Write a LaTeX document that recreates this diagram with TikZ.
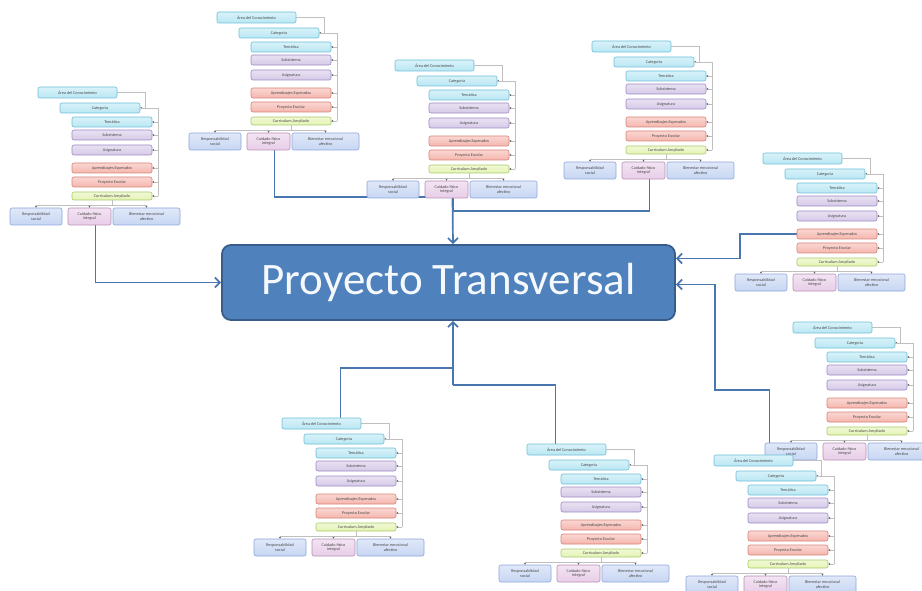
\documentclass[tikz,border=0pt]{standalone}
\usepackage{fontspec}
\setmainfont{Carlito}
\usetikzlibrary{arrows.meta, calc, backgrounds}
\definecolor{areacyan}{RGB}{185, 231, 244}
\definecolor{areacyanline}{RGB}{110, 190, 214}
\definecolor{sublilac}{RGB}{214, 202, 232}
\definecolor{sublilacline}{RGB}{157, 137, 196}
\definecolor{aprsalmon}{RGB}{245, 182, 174}
\definecolor{aprsalmonline}{RGB}{216, 130, 121}
\definecolor{curlime}{RGB}{228, 244, 180}
\definecolor{curlimeline}{RGB}{170, 202, 106}
\definecolor{valblue}{RGB}{199, 214, 243}
\definecolor{valblueline}{RGB}{140, 166, 218}
\definecolor{valpink}{RGB}{232, 206, 232}
\definecolor{valpinkline}{RGB}{182, 142, 181}
\definecolor{projblue}{RGB}{79, 129, 189}
\definecolor{projblueline}{RGB}{56, 93, 138}
\definecolor{linkblue}{RGB}{74, 118, 176}

\begin{document}
\begin{tikzpicture}[
  x=1pt, y=-1pt,
  cbox/.style={draw=#1line, top color=#1!55!white, bottom color=#1, rounded corners=2pt,
    line width=0.6pt, inner sep=0pt, align=center, text=black!70,
    font=\fontsize{4.2}{4.6}\selectfont},
  rowbox/.style={cbox=#1, minimum width=80, minimum height=10},
  tree/.style={draw=gray!50, line width=0.5pt},
  tick/.style={tree, -{Stealth[length=2pt, width=2pt, gray!65!black]}},
  projbox/.style={draw=projblueline, fill=projblue, line width=1.8pt, rounded corners=9pt,
    minimum width=453, minimum height=75, text=white!95!projblue,
    font=\fontsize{45}{50}\selectfont},
  link/.style={draw=linkblue, line width=1.7pt},
  into/.style={link, -{Straight Barb[length=5pt, width=10pt]}}
]
\useasboundingbox (0,0) rectangle (922,591);

%% ===== mapas de cada proyecto =====
\foreach \cl/\x/\y in {c1/38/87, c2/217/12, c3/395/60, c4/592/41, c5/763/153,
                        c6/793/322, c7/714/455, c8/527/444, c9/282/418} {
  \begin{scope}[shift={(\x,\y)}]
    %% cadena curricular
    \node[cbox=areacyan, minimum width=79, minimum height=11] (\cl-area) at (39.5, 5.5) {Área del Conocimiento};
    \node[cbox=areacyan, minimum width=80, minimum height=10] (\cl-cat) at (62, 21) {Categoría};
    \node[rowbox=areacyan] (\cl-tem) at (74, 35) {Temática};
    \node[rowbox=sublilac] (\cl-sub) at (74, 48) {Subsistema};
    \node[rowbox=sublilac] (\cl-asig) at (74, 63) {Asignatura};
    \node[rowbox=aprsalmon] (\cl-apr) at (74, 81) {Aprendizajes Esperados};
    \node[rowbox=aprsalmon] (\cl-proy) at (74, 95) {Proyecto Escolar};
    \node[rowbox=curlime, minimum height=8] (\cl-cur) at (74, 109) {Curriculum Ampliado};

    %% ejes formativos
    \node[cbox=valblue, minimum width=52, minimum height=17] (\cl-resp) at (-2, 129.5) {Responsabilidad\\social};
    \node[cbox=valpink, minimum width=43, minimum height=17] (\cl-cuid) at (51.5, 129.5) {Cuidado físico\\integral};
    \node[cbox=valblue, minimum width=67, minimum height=17] (\cl-bien) at (108.5, 129.5) {Bienestar emocional\\afectivo};

    %% conectores internos
    \draw[tick] (\cl-area.east) -| (107, 21) -- (\cl-cat.east);
    \draw[tree] (\cl-cat.east) -- (120, 21) -- (120, 109);
    \foreach \b in {tem, sub, asig, apr, proy, cur}
      \draw[tick] ($(\cl-\b.east)+(6,0)$) -- (\cl-\b.east);
    \draw[tree] (\cl-cur.south) -- (74, 118);
    \draw[tree] (-2, 118) -- (108.5, 118);
    \foreach \b in {resp, cuid, bien}
      \draw[tick] (\cl-\b.north) ++(0,-3) -- (\cl-\b.north);
  \end{scope}
}

%% ===== nodo central =====
\node[projbox] (pt) at (448.5, 282.5) {Proyecto Transversal};

%% ===== enlaces al proyecto =====
\coordinate (top-hub) at (453, 197);
\coordinate (bot-hub) at (453, 385);
\coordinate (right-elbow) at (715, 390);

\begin{scope}[on background layer]
  \draw[into] ([xshift=6]c1-cuid.south) |- (pt.west);
  \draw[link] ([xshift=6]c2-cuid.south) |- (top-hub);
  \draw[link] ([xshift=6]c4-cuid.south) -- ++(0, 32) -| (top-hub);
  \draw[into] ([xshift=6]c3-cuid.south) -- (pt.north -| top-hub);
  \draw[into] (c5-apr.west) -- ++(-57, 0) |- ([yshift=24]pt.east);
  \draw[into] ([xshift=16]c7-area.north) |- (right-elbow) |- ([yshift=-2]pt.east);
  \draw[link] ([xshift=-11]c8-area.north) |- (bot-hub);
  \draw[link] ([xshift=19]c9-area.north) |- ($(bot-hub)+(0, -17)$);
  \draw[into] (bot-hub) -- (pt.south -| bot-hub);
\end{scope}

\end{tikzpicture}
\end{document}
